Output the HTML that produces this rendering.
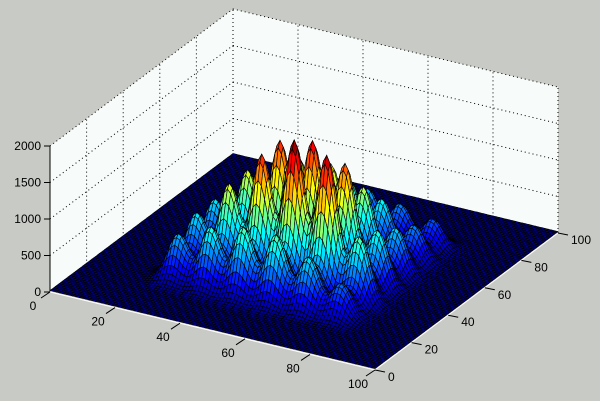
<!DOCTYPE html>
<html><head><meta charset="utf-8"><style>
html,body{margin:0;padding:0;background:#c8cac6;}
svg{display:block;font-family:"Liberation Sans",sans-serif;font-size:12px;}
</style></head><body>
<svg id="chart" width="600" height="401" viewBox="0 0 600 401" xmlns="http://www.w3.org/2000/svg">
<rect x="0" y="0" width="600" height="401" fill="#c8cac6"/>
<g id="walls"></g>
<g id="surf"></g>
<g id="axes"></g>
</svg>
<script>
// peak grid data
const peakXs = [26, 36, 46, 56, 66, 76];
const peakYs = [24, 34, 44, 54, 64, 74];
const peakHeights = [
  [600, 800, 900, 900, 700, 450],
  [700, 1200, 1700, 2000, 1900, 900],
  [700, 1200, 1700, 1800, 1600, 800],
  [600, 1000, 1300, 1300, 1100, 650],
  [500, 800, 900, 900, 750, 500],
  [300, 500, 600, 600, 500, 400]
];
const xTicks = [0, 20, 40, 60, 80, 100];
const yTicks = [0, 20, 40, 60, 80, 100];
const zTicks = [0, 500, 1000, 1500, 2000];

const NS = "http://www.w3.org/2000/svg";
function P(x, y, z) {
  return [50 + 3.25 * x + 1.83 * y, 292 + 0.78 * x - 1.37 * y - 0.073 * z];
}
function mk(tag, attrs, parent) {
  const e = document.createElementNS(NS, tag);
  for (const k in attrs) e.setAttribute(k, attrs[k]);
  parent.appendChild(e);
  return e;
}
function pts(a) { return a.map(p => p[0].toFixed(1) + "," + p[1].toFixed(1)).join(" "); }

const walls = document.getElementById("walls");
const lw = mk("polygon", {points: pts([P(0,0,0), P(0,100,0), P(0,100,2000), P(0,0,2000)]), fill: "#f7fbf9"}, walls);


const bw = mk("polygon", {points: pts([P(0,100,0), P(100,100,0), P(100,100,2000), P(0,100,2000)]), fill: "#f7fbf9"}, walls);


const dot = {stroke: "#000", "stroke-width": 1, "stroke-dasharray": "1,3", fill: "none"};
function line(a, b, attrs, parent, name) {
  const l = mk("line", Object.assign({x1: a[0], y1: a[1], x2: b[0], y2: b[1]}, attrs), parent);
  
  
  return l;
}
zTicks.forEach(z => {
  if (z === 0) return;
  line(P(0,0,z), P(0,100,z), dot, walls, 'z-gridline');
  line(P(0,100,z), P(100,100,z), dot, walls, 'z-gridline');
});
yTicks.forEach(y => { if (y > 0) line(P(0,y,0), P(0,y,2000), dot, walls, 'y-gridline'); });
xTicks.forEach(x => { if (x > 0) line(P(x,100,0), P(x,100,2000), dot, walls, 'x-gridline'); });

// surface
const N = 100, sig2 = 2 * 3.0 * 3.0;
function zAt(x, y) {
  let z = 20;
  for (let r = 0; r < peakYs.length; r++)
    for (let c = 0; c < peakXs.length; c++) {
      const dx = x - peakXs[c], dy = y - peakYs[r];
      const d = dx * dx + dy * dy;
      if (d < 300) z += peakHeights[r][c] * Math.exp(-d / sig2);
    }
  return z;
}
const Z = [];
for (let j = 0; j <= N; j++) { Z.push([]); for (let i = 0; i <= N; i++) Z[j].push(zAt(i, j)); }
function jet(t) {
  t = Math.max(0, Math.min(1, t));
  const r = Math.max(0, Math.min(1, 1.5 - Math.abs(4 * t - 3)));
  const g = Math.max(0, Math.min(1, 1.5 - Math.abs(4 * t - 2)));
  const b = Math.max(0, Math.min(1, 1.5 - Math.abs(4 * t - 1)));
  return "rgb(" + Math.round(r * 255) + "," + Math.round(g * 255) + "," + Math.round(b * 255) + ")";
}
const surf = document.getElementById("surf");
for (let j = N - 1; j >= 0; j--) {
  for (let i = 0; i < N; i++) {
    const q = [P(i, j, Z[j][i]), P(i + 1, j, Z[j][i + 1]), P(i + 1, j + 1, Z[j + 1][i + 1]), P(i, j + 1, Z[j + 1][i])];
    const avg = (Z[j][i] + Z[j][i + 1] + Z[j + 1][i + 1] + Z[j + 1][i]) / 4;
    const pg = mk("polygon", {points: pts(q), fill: jet(avg / 2000), stroke: "#000", "stroke-width": 0.6}, surf);
    
    
  }
}

// axes
const ax = document.getElementById("axes");
const solid = {stroke: "#000", "stroke-width": 1};
line(P(0,0,0), P(0,0,2000), solid, ax, 'z-axis-line');
line(P(0,0,0), P(100,0,0), {stroke: "#fff", "stroke-width": 1}, ax, 'x-axis-line');
line(P(100,0,0), P(100,100,0), {stroke: "#fff", "stroke-width": 1}, ax, 'y-axis-line');
function text(x, y, s, anchor, name) {
  const t = mk("text", {x: x, y: y, "text-anchor": anchor, fill: "#000"}, ax);
  t.textContent = s;
  
  
}
zTicks.forEach(z => {
  const p = P(0,0,z);
  line([p[0] - 6, p[1]], p, solid, ax, 'z-tick');
  text(p[0] - 9, p[1] + 4, String(z), "end", 'z-tick-label');
});
xTicks.forEach(x => {
  const p = P(x,0,0);
  line(p, [p[0] - 9, p[1] + 6], solid, ax, 'x-tick');
  text(p[0] - 17, p[1] + 18, String(x), "middle", 'x-tick-label');
});
yTicks.forEach(y => {
  const p = P(100,y,0);
  line(p, [p[0] + 10, p[1] + 2], solid, ax, 'y-tick');
  text(p[0] + 13, p[1] + 11, String(y), "start", 'y-tick-label');
});
</script>
</body></html>
